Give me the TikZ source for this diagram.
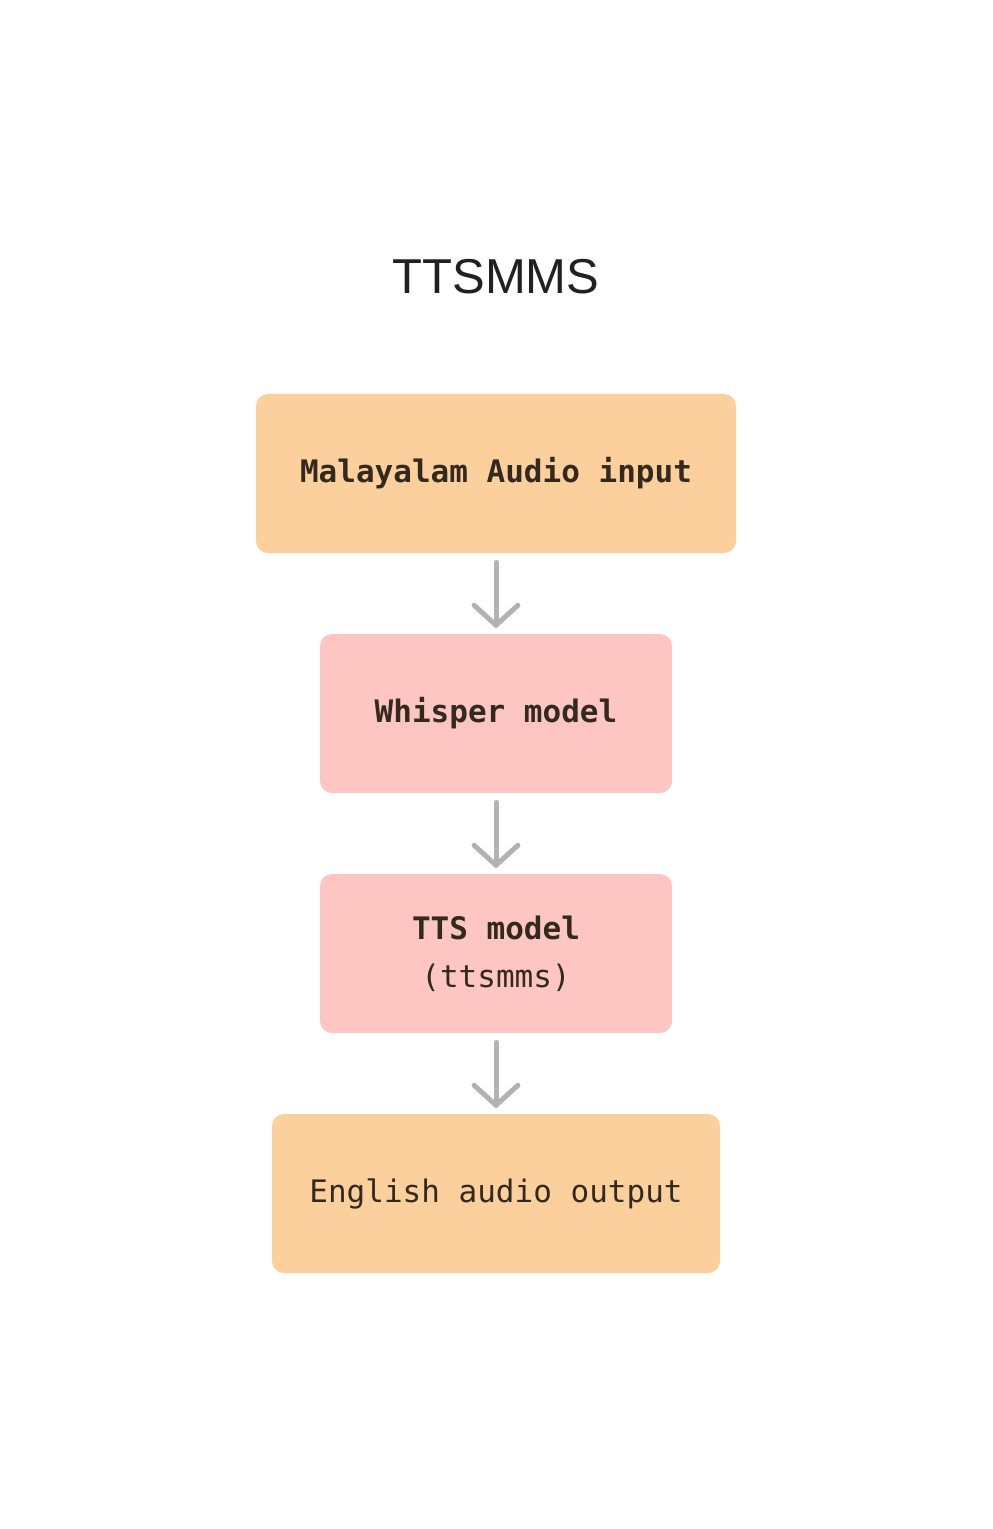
\documentclass[tikz,border=0pt]{standalone}
\usepackage{fontspec}
\setmainfont{Liberation Sans}
\setmonofont{DejaVu Sans Mono}
\usetikzlibrary{arrows.meta}
\definecolor{peach}{HTML}{FBD09C}
\definecolor{rose}{HTML}{FEC6C2}
\definecolor{ink}{HTML}{33291F}
\definecolor{flowgray}{HTML}{B2B2B2}
\newcommand{\boxfont}{\ttfamily\fontsize{15.5}{24}\selectfont}
\tikzset{
  stage/.style={rectangle,rounded corners=6pt,minimum height=79.5pt,
    text=ink,align=center,font=\boxfont,inner sep=0pt},
  flow/.style={draw=flowgray,line width=2.5pt,line cap=round,
    -{Straight Barb[length=10pt,width=22pt,line cap=round]},
    shorten <=4.5pt,shorten >=2.5pt}
}

\begin{document}
\begin{tikzpicture}[x=0.5pt,y=-0.5pt]
    \useasboundingbox[fill=white] (0,0) rectangle (992,1529);
    % title
    \node[text=black!87,font=\fontsize{24.5}{30}\selectfont] (title) at (496,277) {TTSMMS};
    % pipeline stages
    \node[stage,fill=peach,minimum width=240pt] (input) at (496,473.5) {\raisebox{-1.5pt}{\bfseries Malayalam Audio input}};
    \node[stage,fill=rose,minimum width=176pt] (whisper) at (496,713.5) {\raisebox{-1.5pt}{\bfseries Whisper model}};
    \node[stage,fill=rose,minimum width=176pt] (tts) at (496,953.5) {\textbf{TTS model}\\(ttsmms)};
    \node[stage,fill=peach,minimum width=224pt] (output) at (496,1193.5) {\raisebox{-1.5pt}{English audio output}};
    % arrows
    \draw[flow] (input) -- (whisper);
    \draw[flow] (whisper) -- (tts);
    \draw[flow] (tts) -- (output);
\end{tikzpicture}
\end{document}
